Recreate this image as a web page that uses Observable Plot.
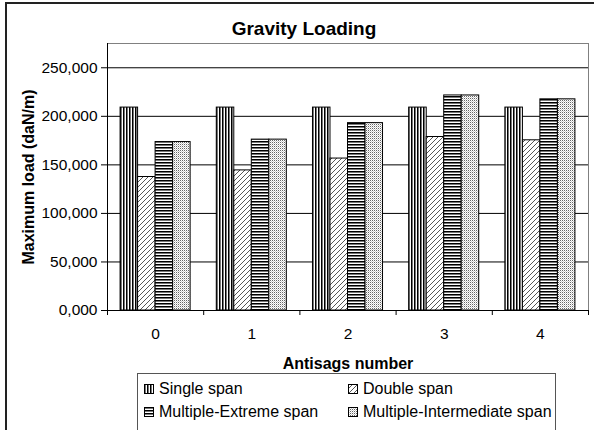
<!DOCTYPE html>
<html><head><meta charset="utf-8">
<script src="https://cdn.jsdelivr.net/npm/d3@7"></script>
<script src="https://cdn.jsdelivr.net/npm/@observablehq/plot@0.6"></script>
<style>
body{margin:0;background:#fff;font-family:"Liberation Sans",Arial,sans-serif;}
#chart{position:relative;width:594px;height:430px;overflow:hidden;background:#fff;}
#border{position:absolute;left:5px;top:2px;width:700px;height:600px;border-left:2px solid #222;border-top:2px solid #222;}
#title{position:absolute;left:0;width:608px;top:19px;text-align:center;font-weight:bold;font-size:19px;line-height:19px;color:#000;}
#plot{position:absolute;left:0;top:0;}
#legend{position:absolute;left:137px;top:373px;width:417px;height:60px;border:1px solid #555;background:#fff;}
.item{position:absolute;display:flex;align-items:center;font-size:16px;line-height:18px;color:#000;white-space:nowrap;}
.item svg{margin-right:5px;}
</style></head><body>
<svg width="0" height="0" style="position:absolute">
  <defs>
    <pattern id="p0" patternUnits="userSpaceOnUse" width="3" height="3">
      <rect x="0" y="0" width="3" height="3" fill="#fff"/>
      <rect x="0" y="0" width="1" height="3" fill="#000"/>
      <rect x="1" y="0" width="1" height="3" fill="#777"/>
    </pattern>
    <pattern id="p1" patternUnits="userSpaceOnUse" width="5" height="5">
      <rect x="0" y="0" width="5" height="5" fill="#fff"/>
      <path d="M-1,1 l2,-2 M0,5 l5,-5 M4,6 l2,-2" stroke="#444" stroke-width="0.9"/>
    </pattern>
    <pattern id="p2" patternUnits="userSpaceOnUse" width="3" height="3">
      <rect x="0" y="0" width="3" height="3" fill="#fff"/>
      <rect x="0" y="0" width="3" height="1" fill="#000"/>
      <rect x="0" y="1" width="3" height="1" fill="#777"/>
    </pattern>
    <pattern id="p3" patternUnits="userSpaceOnUse" width="2" height="2">
      <rect x="0" y="0" width="2" height="2" fill="#fff"/>
      <rect x="0" y="0" width="1" height="1" fill="#666"/>
      <rect x="1" y="1" width="1" height="1" fill="#ccc"/>
    </pattern>
  </defs>
</svg>
<div id="chart">
  <div id="border"></div>
  <div id="plot"></div>
  <div id="title"></div>
  <div id="legend"></div>
</div>
<script>
const title = "Gravity Loading";
const yLabel = "Maximum load (daN/m)";
const xLabel = "Antisags number";
const groups = ["0", "1", "2", "3", "4"];
const series = ["Single span", "Double span", "Multiple-Extreme span", "Multiple-Intermediate span"];
const singleSpan = [209000, 209000, 209000, 209000, 209000];
const doubleSpan = [137500, 144300, 156500, 178700, 175300];
const extremeSpan = [173500, 176000, 193000, 221500, 217500];
const intermediateSpan = [173500, 176000, 193000, 221500, 217500];
const yTicks = [0, 50000, 100000, 150000, 200000, 250000];
const yTickLabels = ["0,000", "50,000", "100,000", "150,000", "200,000", "250,000"];

const seriesValues = [singleSpan, doubleSpan, extremeSpan, intermediateSpan];
const patterns = ["url(#p0)", "url(#p1)", "url(#p2)", "url(#p3)"];
const rows = groups.flatMap((g, gi) => series.map((s, si) => ({group: gi, si, name: s, value: seriesValues[si][gi]})));

const bw = 0.182;               // bar width in group units
const half = bw * series.length / 2;
const boundaries = d3.range(groups.length + 1).map(i => i - 0.5);

const plot = Plot.plot({
  width: 594, height: 430,
  marginLeft: 107, marginRight: 6, marginTop: 43, marginBottom: 120,
  style: {fontFamily: "'Liberation Sans', Arial, sans-serif", color: "#000", background: "transparent", overflow: "visible"},
  x: {domain: [-0.5, groups.length - 0.5]},
  y: {domain: [0, 275000]},
  color: {type: "identity"},
  marks: [
    Plot.frame({stroke: "#808080"}),
    Plot.ruleY(yTicks.filter(t => t > 0), {stroke: "#000"}),
    Plot.rectY(rows, {
      x1: d => d.group - half + d.si * bw,
      x2: d => d.group - half + (d.si + 1) * bw,
      y1: () => 0, y2: "value",
      fill: d => patterns[d.si], stroke: "#000", strokeWidth: 1
    }),
    Plot.ruleY([0], {stroke: "#000"}),
    Plot.ruleX([-0.5], {stroke: "#000"}),
    Plot.axisY({ticks: yTicks, tickFormat: (d, i) => yTickLabels[yTicks.indexOf(d)], tickSize: 6, tickPadding: 4, fontSize: 15.5, label: null}),
    Plot.axisX({ticks: boundaries, tickSize: 5, tickFormat: () => "", label: null}),
    Plot.axisX({ticks: d3.range(groups.length), tickSize: 0, tickPadding: 17, tickFormat: i => groups[i], fontSize: 15.5, label: null}),
    Plot.text([yLabel], {text: d => d, frameAnchor: "left", dx: -79, rotate: -90, textAnchor: "middle", lineAnchor: "middle", fontSize: 16, fontWeight: "bold"}),
    Plot.text([xLabel], {text: d => d, frameAnchor: "bottom", dy: 53, textAnchor: "middle", lineAnchor: "middle", fontSize: 16, fontWeight: "bold"})
  ]
});
document.getElementById("plot").appendChild(plot);
document.getElementById("title").textContent = title;

const legend = document.getElementById("legend");
const pos = [[6, 6], [210, 6], [6, 29], [210, 29]];
series.forEach((s, i) => {
  const it = document.createElement("div");
  it.className = "item";
  it.style.left = pos[i][0] + "px";
  it.style.top = pos[i][1] + "px";
  it.innerHTML = `<svg width="10" height="10"><rect x="0.5" y="0.5" width="9" height="9" fill="${patterns[i]}" stroke="#000"/></svg><span></span>`;
  it.querySelector("span").textContent = s;
  legend.appendChild(it);
});
</script>
</body></html>
